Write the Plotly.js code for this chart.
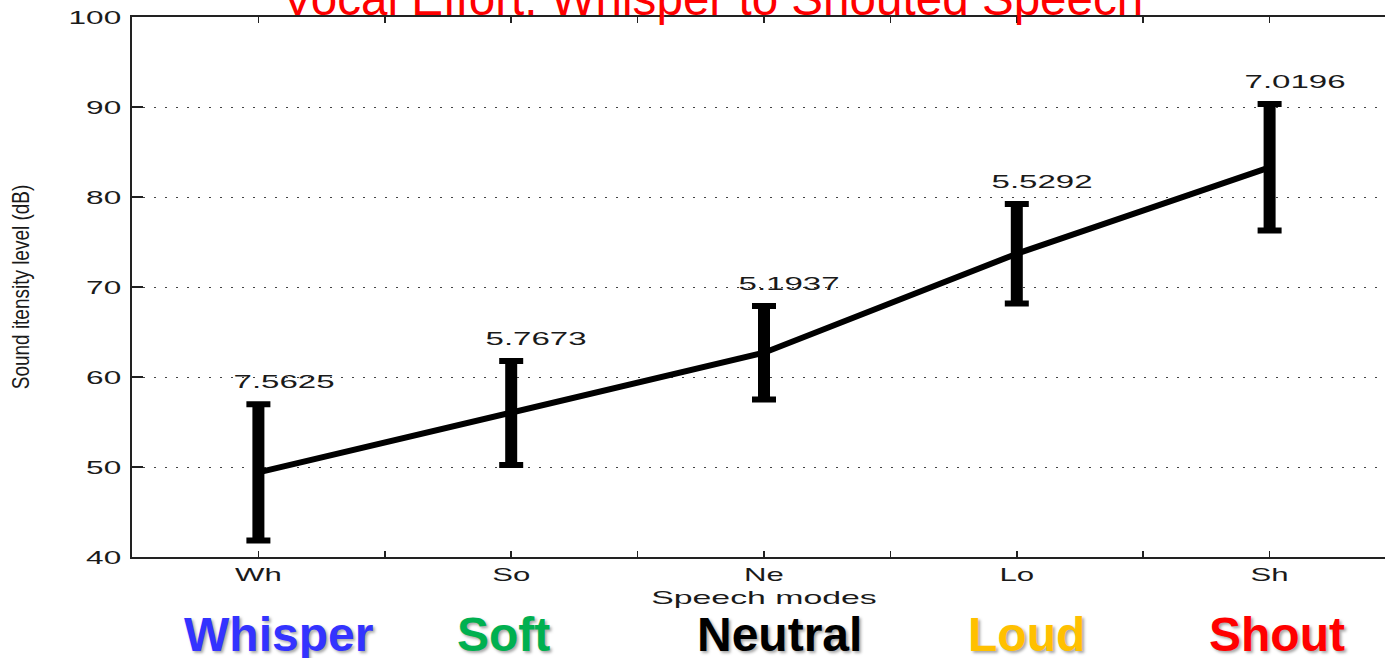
<!DOCTYPE html>
<html>
<head>
<meta charset="utf-8">
<script src="https://cdn.plot.ly/plotly-3.0.1.min.js"></script>
<style>
  html, body { margin: 0; padding: 0; background: #fff; overflow: hidden; }
  #chart { width: 1400px; height: 658px; }
</style>
</head>
<body>
<div id="chart"></div>
<script>
// Speech modes and their sound intensity level (mean and standard deviation, dB)
const modes = ['Wh', 'So', 'Ne', 'Lo', 'Sh'];
const modeNames = ['Whisper', 'Soft', 'Neutral', 'Loud', 'Shout'];
const modeColors = ['#3333ff', '#00b050', '#000000', '#ffc000', '#ff0000'];
const meanLevel = [49.4, 56.0, 62.7, 73.7, 83.3];
const stdLevel = [7.5625, 5.7673, 5.1937, 5.5292, 7.0196];
const yTicks = [40, 50, 60, 70, 80, 90, 100];

const xPos = modes.map((_, i) => i + 1);

// major ticks at each mode, unlabeled ticks half-way between
const xTickVals = [];
const xTickText = [];
xPos.forEach((x, i) => {
  xTickVals.push(x); xTickText.push(modes[i]);
  if (i < xPos.length - 1) { xTickVals.push(x + 0.5); xTickText.push(''); }
});

const axisFont = { family: 'Liberation Sans, Arial, sans-serif', size: 19, color: '#1a1a1a' };

const traces = [
  { // thick vertical part of each error bar
    x: xPos, y: meanLevel, type: 'scatter', mode: 'markers',
    marker: { size: 1, opacity: 0 },
    error_y: { type: 'data', array: stdLevel, visible: true, color: '#000', thickness: 12, width: 0 },
    hoverinfo: 'skip'
  },
  { // mean line with error-bar caps
    x: xPos, y: meanLevel, type: 'scatter', mode: 'lines',
    line: { color: '#000', width: 6 },
    error_y: { type: 'data', array: stdLevel, visible: true, color: '#000', thickness: 6, width: 12 }
  }
];

const annotations = [];
// standard deviation printed above each bar
stdLevel.forEach((s, i) => {
  annotations.push({
    x: xPos[i] + 0.1, y: meanLevel[i] + s + 2.5, xref: 'x', yref: 'y',
    text: s.toFixed(4), showarrow: false, xanchor: 'center', yanchor: 'middle',
    font: axisFont
  });
});
// coloured mode names under the axis
const nameNudge = [0.08, -0.03, 0.06, 0.04, 0.03];
modeNames.forEach((name, i) => {
  annotations.push({
    x: xPos[i] + nameNudge[i], y: -0.143, xref: 'x', yref: 'paper',
    text: name, showarrow: false, xanchor: 'center', yanchor: 'middle',
    font: { family: 'Liberation Sans, Arial, sans-serif', size: 48, weight: 700,
            color: modeColors[i], shadow: '2px 2px 3px rgba(0,0,0,0.35)' }
  });
});

const layout = {
  width: 1400, height: 658,
  margin: { l: 132, r: 4, t: 17, b: 101 },
  paper_bgcolor: '#fff', plot_bgcolor: '#fff',
  showlegend: false,
  title: {
    text: 'Vocal Effort: Whisper to Shouted Speech',
    font: { family: 'Liberation Sans, Arial, sans-serif', size: 47.6, color: '#ff0000' },
    xref: 'container', x: 712.5 / 1400, xanchor: 'center',
    yref: 'container', y: 1 - 15 / 658, yanchor: 'bottom'
  },
  xaxis: {
    range: [0.5, 5.5], tickmode: 'array', tickvals: xTickVals, ticktext: xTickText,
    ticks: 'inside', ticklen: 6, tickwidth: 1.5, tickcolor: '#222',
    showline: true, linecolor: '#222', linewidth: 2, mirror: 'allticks',
    showgrid: false, zeroline: false, tickfont: axisFont, ticklabelstandoff: -1,
    title: { text: 'Speech modes', font: axisFont, standoff: 7 },
    automargin: false, fixedrange: true
  },
  yaxis: {
    range: [40, 100], tickmode: 'array', tickvals: yTicks,
    ticks: 'inside', ticklen: 11, tickwidth: 1.5, tickcolor: '#222',
    showline: true, linecolor: '#222', linewidth: 2, mirror: 'allticks',
    showgrid: true, gridcolor: '#444', gridwidth: 1, griddash: '2px,9px',
    zeroline: false, tickfont: axisFont, ticklabelstandoff: 5,
    title: { text: 'Sound itensity level (dB)', font: Object.assign({}, axisFont, { size: 24 }), standoff: 53 },
    automargin: false, fixedrange: true
  },
  annotations: annotations
};

// widen (or condense) lettering along its reading direction
function stretchText(selector, k) {
  document.querySelectorAll(selector).forEach(t => {
    const w = t.getComputedTextLength();
    if (w > 0) {
      t.setAttribute('textLength', (w * k).toFixed(1));
      t.setAttribute('lengthAdjust', 'spacingAndGlyphs');
    }
  });
}

Plotly.newPlot('chart', traces, layout, { staticPlot: true, displayModeBar: false }).then(() => {
  stretchText('#chart .xtick text', 1.64);
  stretchText('#chart .ytick text', 1.66);
  stretchText('#chart .g-xtitle text', 1.78);
  stretchText('#chart .g-ytitle text', 0.79);
  for (let i = 0; i < stdLevel.length; i++) {
    stretchText('#chart .annotation[data-index="' + i + '"] text', 1.74);
  }
});
</script>
</body>
</html>
